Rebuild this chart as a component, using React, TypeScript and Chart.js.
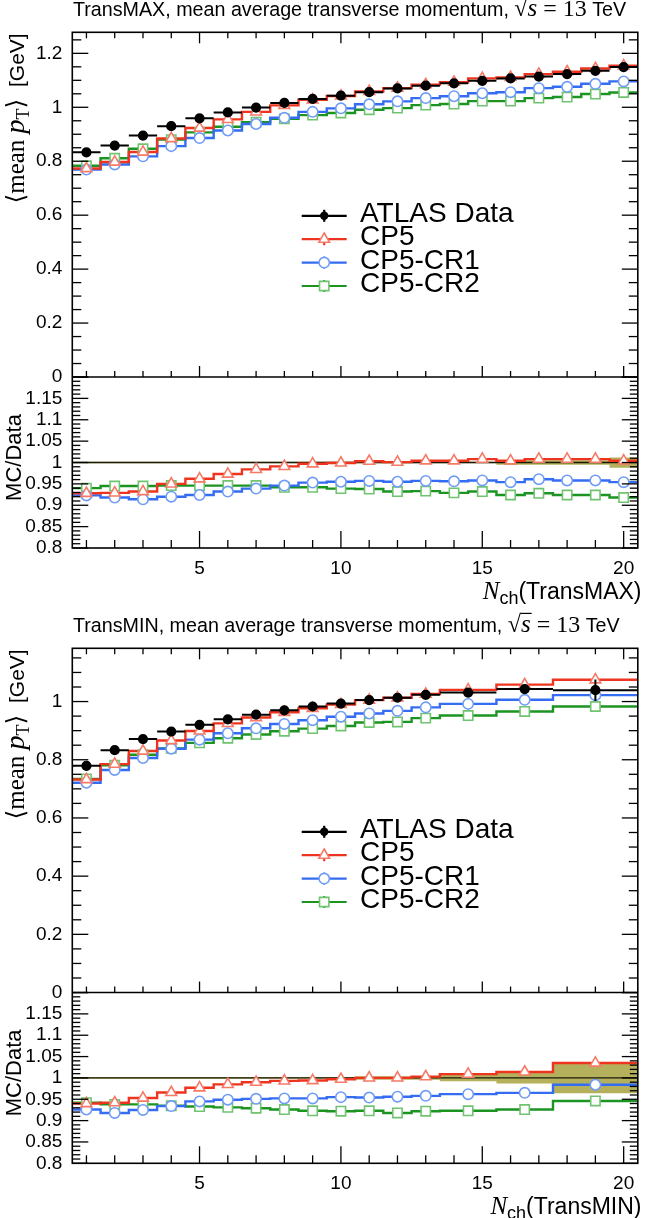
import React, { useEffect, useRef } from "react";
import { Chart, registerables } from "chart.js";
import { drawPoint } from "chart.js/helpers";

Chart.register(...registerables);

// ---------- TransMAX panel ----------
const maxEdges = [0.5, 1.5, 2.5, 3.5, 4.5, 5.5, 6.5, 7.5, 8.5, 9.5, 10.5, 11.5, 12.5, 13.5, 14.5, 15.5, 16.5, 17.5, 18.5, 19.5, 20.5];
const maxCenters = [1, 2, 3, 4, 5, 6, 7, 8, 9, 10, 11, 12, 13, 14, 15, 16, 17, 18, 19, 20];
const maxData = [0.833, 0.858, 0.895, 0.93, 0.959, 0.981, 0.999, 1.016, 1.031, 1.043, 1.056, 1.07, 1.08, 1.089, 1.098, 1.107, 1.114, 1.123, 1.135, 1.149];
const maxDataErr = [0.002, 0.002, 0.002, 0.002, 0.002, 0.002, 0.002, 0.002, 0.002, 0.002, 0.002, 0.002, 0.002, 0.002, 0.002, 0.005, 0.005, 0.005, 0.005, 0.014];
const maxCP5 = [0.773, 0.797, 0.834, 0.884, 0.923, 0.955, 0.983, 1.007, 1.028, 1.042, 1.059, 1.071, 1.084, 1.093, 1.107, 1.111, 1.123, 1.132, 1.144, 1.154];
const maxCR1 = [0.769, 0.788, 0.818, 0.856, 0.886, 0.914, 0.938, 0.961, 0.983, 0.996, 1.011, 1.022, 1.034, 1.041, 1.052, 1.056, 1.071, 1.076, 1.087, 1.096];
const maxCR2 = [0.783, 0.811, 0.846, 0.88, 0.907, 0.928, 0.945, 0.957, 0.971, 0.979, 0.991, 0.997, 1.008, 1.012, 1.023, 1.023, 1.034, 1.038, 1.049, 1.055];
const maxRatioCP5 = [0.928, 0.929, 0.932, 0.95, 0.962, 0.973, 0.984, 0.991, 0.997, 0.999, 1.003, 1.001, 1.004, 1.004, 1.008, 1.004, 1.008, 1.008, 1.008, 1.004];
const maxRatioCR1 = [0.923, 0.918, 0.914, 0.92, 0.924, 0.932, 0.939, 0.946, 0.953, 0.955, 0.957, 0.955, 0.957, 0.956, 0.958, 0.954, 0.961, 0.958, 0.958, 0.954];
const maxRatioCR2 = [0.94, 0.945, 0.945, 0.946, 0.946, 0.946, 0.946, 0.942, 0.942, 0.939, 0.938, 0.932, 0.933, 0.929, 0.932, 0.924, 0.928, 0.924, 0.924, 0.918];
const maxBand = [0.0015, 0.0015, 0.0015, 0.0015, 0.0015, 0.0015, 0.0015, 0.0015, 0.0015, 0.0015, 0.002, 0.002, 0.002, 0.002, 0.002, 0.005, 0.005, 0.005, 0.005, 0.012];

// ---------- TransMIN panel ----------
const minEdges = [0.5, 1.5, 2.5, 3.5, 4.5, 5.5, 6.5, 7.5, 8.5, 9.5, 10.5, 11.5, 12.5, 13.5, 15.5, 17.5, 20.5];
const minCenters = [1, 2, 3, 4, 5, 6, 7, 8, 9, 10, 11, 12, 13, 14.5, 16.5, 19];
const minData = [0.779, 0.833, 0.871, 0.897, 0.92, 0.939, 0.955, 0.97, 0.983, 0.993, 1.005, 1.013, 1.023, 1.031, 1.043, 1.039];
const minDataErr = [0.002, 0.002, 0.002, 0.002, 0.002, 0.002, 0.002, 0.002, 0.002, 0.002, 0.004, 0.004, 0.004, 0.008, 0.014, 0.037];
const minCP5 = [0.732, 0.785, 0.83, 0.866, 0.899, 0.925, 0.945, 0.963, 0.977, 0.99, 1.005, 1.013, 1.026, 1.04, 1.058, 1.075];
const minCR1 = [0.721, 0.765, 0.806, 0.838, 0.869, 0.891, 0.908, 0.923, 0.936, 0.948, 0.959, 0.968, 0.98, 0.992, 1.006, 1.022];
const minCR2 = [0.734, 0.781, 0.817, 0.839, 0.858, 0.874, 0.887, 0.898, 0.907, 0.916, 0.928, 0.93, 0.943, 0.952, 0.966, 0.983];
const minRatioCP5 = [0.94, 0.942, 0.953, 0.966, 0.977, 0.985, 0.99, 0.993, 0.994, 0.997, 1.0, 1.0, 1.003, 1.009, 1.014, 1.035];
const minRatioCR1 = [0.926, 0.918, 0.925, 0.934, 0.945, 0.949, 0.951, 0.952, 0.952, 0.955, 0.954, 0.956, 0.958, 0.962, 0.965, 0.984];
const minRatioCR2 = [0.942, 0.938, 0.938, 0.935, 0.933, 0.931, 0.929, 0.926, 0.923, 0.922, 0.923, 0.918, 0.922, 0.923, 0.926, 0.946];
const minBand = [0.002, 0.002, 0.002, 0.002, 0.002, 0.002, 0.002, 0.002, 0.002, 0.002, 0.004, 0.004, 0.004, 0.008, 0.013, 0.036];

// ---------- axes ----------
const xTicks = [5, 10, 15, 20];
const xMinorTicks = [1, 2, 3, 4, 5, 6, 7, 8, 9, 10, 11, 12, 13, 14, 15, 16, 17, 18, 19, 20];
const mainTicks = [0, 0.2, 0.4, 0.6, 0.8, 1, 1.2];
const ratioTicks = [0.8, 0.85, 0.9, 0.95, 1, 1.05, 1.1, 1.15];
const X_MIN = 0.5;
const X_MAX = 20.5;
const R_MIN = 0.8;
const R_MAX = 1.2;

const W = 646;
const H = 609;
const SANS = '"Liberation Sans", Arial, Helvetica, sans-serif';
const SERIF = '"Liberation Serif", "DejaVu Serif", "Times New Roman", serif';

const RED = "rgb(238, 52, 30)";
const RED_MK = "rgb(246, 122, 104)";
const BLUE = "rgb(52, 108, 242)";
const BLUE_MK = "rgb(112, 156, 246)";
const GREEN = "rgb(28, 148, 34)";
const GREEN_MK = "rgb(112, 196, 112)";
const BAND = "rgb(181, 176, 92)";

interface Panel {
  key: string;
  title: string;
  region: string;
  yMax: number;
  padTop: number;
  xAxisH: number;
  edges: number[];
  centers: number[];
  data: number[];
  dataErr: number[];
  cp5: number[];
  cr1: number[];
  cr2: number[];
  rCp5: number[];
  rCr1: number[];
  rCr2: number[];
  band: number[];
}

const maxPanel: Panel = {
  key: "max",
  title: "TransMAX, mean average transverse momentum, ",
  region: "(TransMAX)",
  yMax: 1.278,
  padTop: 32.3,
  xAxisH: 61,
  edges: maxEdges,
  centers: maxCenters,
  data: maxData,
  dataErr: maxDataErr,
  cp5: maxCP5,
  cr1: maxCR1,
  cr2: maxCR2,
  rCp5: maxRatioCP5,
  rCr1: maxRatioCR1,
  rCr2: maxRatioCR2,
  band: maxBand,
};

const minPanel: Panel = {
  key: "min",
  title: "TransMIN, mean average transverse momentum, ",
  region: "(TransMIN)",
  yMax: 1.183,
  padTop: 39.3,
  xAxisH: 54.7,
  edges: minEdges,
  centers: minCenters,
  data: minData,
  dataErr: minDataErr,
  cp5: minCP5,
  cr1: minCR1,
  cr2: minCR2,
  rCp5: minRatioCP5,
  rCr1: minRatioCR1,
  rCr2: minRatioCR2,
  band: minBand,
};

type Pt = { x: number; y: number | null };

// histogram outline: two points per bin, at its low and high edge
const steps = (edges: number[], vals: number[]): Pt[] =>
  vals.flatMap((v, i) => [
    { x: edges[i], y: v },
    { x: edges[i + 1], y: v },
  ]);

const pts = (xs: number[], ys: number[]): Pt[] => xs.map((x, i) => ({ x, y: ys[i] }));

// data error bars: bin-wide horizontal bar + vertical error, separated by gaps
const errBars = (edges: number[], centers: number[], vals: number[], errs: number[]): Pt[] =>
  vals.flatMap((v, i) => [
    { x: edges[i], y: v },
    { x: edges[i + 1], y: v },
    { x: centers[i], y: null },
    { x: centers[i], y: v - errs[i] },
    { x: centers[i], y: v + errs[i] },
    { x: centers[i], y: null },
  ]);

const fmt = (v: number) => String(Number(v.toFixed(2)));

const lineDs = (label: string, data: Pt[], axis: string, color: string, order: number, width = 2.4) => ({
  label,
  data,
  yAxisID: axis,
  borderColor: color,
  borderWidth: width,
  pointRadius: 0,
  fill: false,
  spanGaps: false,
  order,
});

const markerDs = (
  label: string,
  data: Pt[],
  axis: string,
  style: string,
  radius: number,
  color: string,
  order: number,
  fillColor = "#fff"
) => ({
  label,
  data,
  yAxisID: axis,
  showLine: false,
  pointStyle: style,
  pointRadius: radius,
  pointBorderColor: color,
  pointBackgroundColor: fillColor,
  pointBorderWidth: 1.6,
  order,
});

type Seg = { t: string; font: string; dy?: number; bar?: number };

const drawRich = (ctx: CanvasRenderingContext2D, segs: Seg[], x: number, y: number, align: "left" | "right" | "center") => {
  let w = 0;
  segs.forEach((s) => {
    ctx.font = s.font;
    w += ctx.measureText(s.t).width;
  });
  let cx = align === "right" ? x - w : align === "center" ? x - w / 2 : x;
  segs.forEach((s) => {
    ctx.font = s.font;
    const sw = ctx.measureText(s.t).width;
    ctx.fillText(s.t, cx, y + (s.dy || 0));
    if (s.bar) ctx.fillRect(cx - 0.5, y - s.bar, sw + 1.5, 1.2);
    cx += sw;
  });
};

const legendItems = [
  { label: "ATLAS Data", line: "#000", mk: "#000", fillMk: "#000", style: "circle", r: 4.2 },
  { label: "CP5", line: RED, mk: RED_MK, fillMk: "#fff", style: "triangle", r: 6.2 },
  { label: "CP5-CR1", line: BLUE, mk: BLUE_MK, fillMk: "#fff", style: "circle", r: 5.2 },
  { label: "CP5-CR2", line: GREEN, mk: GREEN_MK, fillMk: "#fff", style: "rect", r: 6.6 },
];

const decorPlugin = (p: Panel) => ({
  id: "decor-" + p.key,
  afterDraw(chart: any) {
    const ctx: CanvasRenderingContext2D = chart.ctx;
    const { left, right, top, bottom } = chart.chartArea;
    const xs = chart.scales.x;
    const ym = chart.scales.y;
    const yr = chart.scales.yr;
    const mid = ym.bottom;
    ctx.save();
    ctx.strokeStyle = "#000";
    ctx.fillStyle = "#000";
    const seg = (x1: number, y1: number, x2: number, y2: number) => {
      ctx.beginPath();
      ctx.moveTo(x1, y1);
      ctx.lineTo(x2, y2);
      ctx.stroke();
    };

    // inward ticks
    ctx.lineWidth = 1.3;
    xMinorTicks.forEach((v) => {
      const px = xs.getPixelForValue(v);
      const major = xTicks.includes(v);
      seg(px, top, px, top + (major ? 11 : 6));
      seg(px, mid, px, mid - (major ? 11 : 6));
      seg(px, bottom, px, bottom - (major ? 17 : 8));
    });
    for (let k = 0; k * 0.05 <= p.yMax + 1e-9; k++) {
      const py = ym.getPixelForValue(k * 0.05);
      const len = k % 4 === 0 ? 16 : 9;
      seg(left, py, left + len, py);
      seg(right, py, right - len, py);
    }
    for (let k = 0; k <= 40; k++) {
      const py = yr.getPixelForValue(R_MIN + k * 0.01);
      const len = k % 5 === 0 ? 16 : 8;
      seg(left, py, left + len, py);
      seg(right, py, right - len, py);
    }

    // frame
    ctx.lineWidth = 1.6;
    ctx.strokeRect(left, top, right - left, bottom - top);
    seg(left, mid, right, mid);

    // plot title
    ctx.textBaseline = "alphabetic";
    drawRich(
      ctx,
      [
        { t: p.title, font: `19.7px ${SANS}` },
        { t: "\u221A", font: `24px ${SERIF}` },
        { t: "s", font: `italic 25px ${SERIF}`, bar: 19 },
        { t: " = 13", font: `24px ${SERIF}` },
        { t: " TeV", font: `19.7px ${SANS}` },
      ],
      73,
      top - 16.5,
      "left"
    );

    // x title
    drawRich(
      ctx,
      [
        { t: "N", font: `italic 25px ${SERIF}` },
        { t: "ch", font: `18px ${SANS}`, dy: 5 },
        { t: p.region, font: `23px ${SANS}` },
      ],
      641.5,
      bottom + 51,
      "right"
    );

    // y titles (rotated)
    ctx.save();
    ctx.translate(23.5, top);
    ctx.rotate(-Math.PI / 2);
    drawRich(
      ctx,
      [
        { t: "\u27E8", font: `25px ${SERIF}` },
        { t: "mean ", font: `25px ${SERIF}` },
        { t: "p", font: `italic 28px ${SERIF}` },
        { t: "T", font: `18px ${SERIF}`, dy: 5 },
        { t: "\u27E9", font: `25px ${SERIF}` },
        { t: "  [GeV]", font: `21px ${SANS}` },
      ],
      -1,
      0,
      "right"
    );
    ctx.restore();

    ctx.save();
    ctx.translate(21, (mid + bottom) / 2 - 5);
    ctx.rotate(-Math.PI / 2);
    drawRich(ctx, [{ t: "MC/Data", font: `22px ${SANS}` }], 0, 0, "center");
    ctx.restore();

    // legend
    legendItems.forEach((it, i) => {
      const y = top + 183.5 + 23.4 * i;
      ctx.strokeStyle = it.line;
      ctx.lineWidth = 2.2;
      seg(301.7, y, 346.7, y);
      seg(324.2, y - 6, 324.2, y + 6);
      ctx.strokeStyle = it.mk;
      ctx.fillStyle = it.fillMk;
      ctx.lineWidth = 1.6;
      drawPoint(ctx, { pointStyle: it.style as any, radius: it.r, rotation: 0, borderWidth: it.fillMk === "#000" ? 0 : 1.6 }, 324.2, y);
      ctx.fillStyle = "#000";
      ctx.font = `28px ${SANS}`;
      ctx.textBaseline = "middle";
      ctx.fillText(it.label, 360, y - 1.5);
    });

    ctx.restore();
  },
});

const buildConfig = (p: Panel): any => {
  const datasets = [
    markerDs("ATLAS Data", pts(p.centers, p.data), "y", "circle", 4.3, "#000", 0, "#000"),
    lineDs("data errors", errBars(p.edges, p.centers, p.data, p.dataErr), "y", "#000", 1, 2),
    markerDs("CP5 markers", pts(p.centers, p.cp5), "y", "triangle", 6.2, RED_MK, 2),
    markerDs("CP5-CR1 markers", pts(p.centers, p.cr1), "y", "circle", 5.2, BLUE_MK, 2),
    markerDs("CP5-CR2 markers", pts(p.centers, p.cr2), "y", "rect", 6.6, GREEN_MK, 2),
    markerDs("CP5 ratio markers", pts(p.centers, p.rCp5), "yr", "triangle", 6.2, RED_MK, 2),
    markerDs("CP5-CR1 ratio markers", pts(p.centers, p.rCr1), "yr", "circle", 5.2, BLUE_MK, 2),
    markerDs("CP5-CR2 ratio markers", pts(p.centers, p.rCr2), "yr", "rect", 6.6, GREEN_MK, 2),
    lineDs("CP5", steps(p.edges, p.cp5), "y", RED, 3),
    lineDs("CP5-CR1", steps(p.edges, p.cr1), "y", BLUE, 4),
    lineDs("CP5-CR2", steps(p.edges, p.cr2), "y", GREEN, 5),
    lineDs("CP5 ratio", steps(p.edges, p.rCp5), "yr", RED, 3),
    lineDs("CP5-CR1 ratio", steps(p.edges, p.rCr1), "yr", BLUE, 4),
    lineDs("CP5-CR2 ratio", steps(p.edges, p.rCr2), "yr", GREEN, 5),
    lineDs("unity", [{ x: X_MIN, y: 1 }, { x: X_MAX, y: 1 }], "yr", "#1a1a0a", 6, 1.3),
    {
      label: "band hi",
      data: steps(p.edges, p.band.map((e) => 1 + e)),
      yAxisID: "yr",
      borderColor: "rgba(0,0,0,0)",
      borderWidth: 1,
      pointRadius: 0,
      backgroundColor: BAND,
      fill: "+1",
      order: 8,
    },
    {
      label: "band lo",
      data: steps(p.edges, p.band.map((e) => 1 - e)),
      yAxisID: "yr",
      borderColor: "rgba(0,0,0,0)",
      borderWidth: 1,
      pointRadius: 0,
      fill: false,
      order: 9,
    },
  ];

  const tickFont = { family: SANS, size: 19 };

  return {
    type: "line",
    data: { datasets },
    options: {
      animation: false,
      responsive: false,
      maintainAspectRatio: false,
      events: [],
      layout: { padding: { top: p.padTop, left: 0, right: 0, bottom: 0 } },
      plugins: {
        legend: { display: false },
        tooltip: { enabled: false },
        title: { display: false },
      },
      scales: {
        x: {
          type: "linear",
          min: X_MIN,
          max: X_MAX,
          grid: { display: false, drawTicks: false },
          border: { display: false },
          afterBuildTicks: (s: any) => {
            s.ticks = xTicks.map((v) => ({ value: v }));
          },
          afterFit: (s: any) => {
            s.height = p.xAxisH;
          },
          ticks: { font: tickFont, color: "#000", padding: 9, maxRotation: 0, autoSkip: false, callback: (v: any) => fmt(Number(v)) },
        },
        yr: {
          type: "linear",
          axis: "y",
          position: "left",
          stack: "panel",
          stackWeight: 1,
          weight: 1,
          min: R_MIN,
          max: R_MAX,
          grid: { display: false, drawTicks: false },
          border: { display: false },
          afterBuildTicks: (s: any) => {
            s.ticks = ratioTicks.map((v) => ({ value: v }));
          },
          afterFit: (s: any) => {
            s.width = 72.3;
          },
          ticks: { font: tickFont, color: "#000", padding: 10, autoSkip: false, callback: (v: any) => fmt(Number(v)) },
        },
        y: {
          type: "linear",
          axis: "y",
          position: "left",
          stack: "panel",
          stackWeight: 2.016,
          weight: 2,
          min: 0,
          max: p.yMax,
          grid: { display: false, drawTicks: false },
          border: { display: false },
          afterBuildTicks: (s: any) => {
            s.ticks = mainTicks.filter((v) => v <= p.yMax).map((v) => ({ value: v }));
          },
          afterFit: (s: any) => {
            s.width = 72.3;
          },
          ticks: { font: tickFont, color: "#000", padding: 10, autoSkip: false, callback: (v: any) => fmt(Number(v)) },
        },
      },
    },
    plugins: [decorPlugin(p)],
  };
};

const PanelChart: React.FC<{ panel: Panel; top: number }> = ({ panel, top }) => {
  const canvasRef = useRef<HTMLCanvasElement>(null);
  const chartInstance = useRef<Chart | null>(null);

  useEffect(() => {
    if (!canvasRef.current) return;
    if (chartInstance.current) chartInstance.current.destroy();
    chartInstance.current = new Chart(canvasRef.current, buildConfig(panel));
    return () => {
      if (chartInstance.current) {
        chartInstance.current.destroy();
        chartInstance.current = null;
      }
    };
  }, [panel]);

  return (
    <canvas
      ref={canvasRef}
      width={W}
      height={H}
      style={{ position: "absolute", left: 0, top, width: W, height: H, display: "block" }}
    />
  );
};

export default function App() {
  return (
    <div style={{ position: "absolute", left: 0, top: 0, width: W, height: 1218, background: "#fff" }}>
      <PanelChart panel={maxPanel} top={0} />
      <PanelChart panel={minPanel} top={H} />
    </div>
  );
}
